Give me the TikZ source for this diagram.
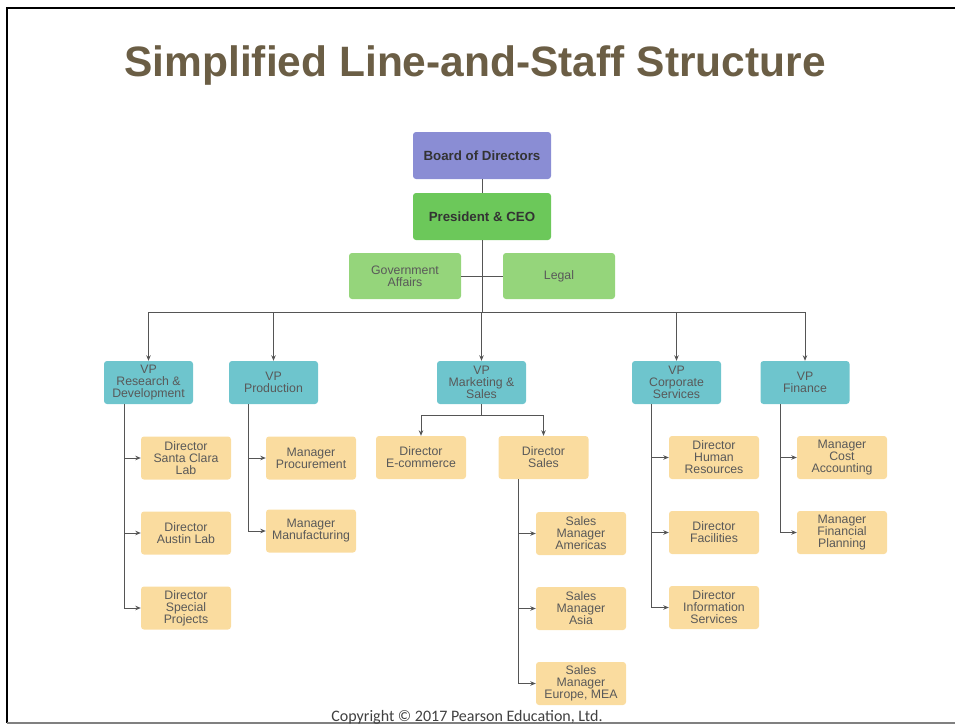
\documentclass[tikz,border=0pt]{standalone}
\usepackage{fontspec}
\setmainfont{Liberation Sans}
\newfontfamily\copyfont{Carlito}
\usetikzlibrary{positioning,arrows.meta}

\definecolor{titlebrown}{HTML}{6B5E45}
\definecolor{boardblue}{HTML}{8A8DD4}
\definecolor{ceogreen}{HTML}{6CC85A}
\definecolor{staffgreen}{HTML}{95D57B}
\definecolor{vpteal}{HTML}{6EC5CD}
\definecolor{subtan}{HTML}{FADC9F}
\definecolor{linegray}{HTML}{555555}

\tikzset{
  box/.style={rectangle, rounded corners=3pt, align=center, inner sep=0pt,
    font=\fontsize{12.3}{12}\selectfont},
  topbox/.style={box, minimum width=138pt, minimum height=47pt,
    font=\bfseries\fontsize{13.3}{14}\selectfont, text=black!80},
  staffbox/.style={box, fill=staffgreen, minimum width=112pt, minimum height=46pt, text=black!65},
  vpbox/.style={box, fill=vpteal, minimum width=89pt, minimum height=43pt, text=black!65},
  subbox/.style={box, fill=subtan, minimum width=90pt, minimum height=43pt, text=black!65},
  link/.style={draw=linegray, line width=0.9pt},
  arrowlink/.style={link, -{Stealth[length=5.5pt,width=4.5pt]}}
}

\begin{document}
\begin{tikzpicture}[x=1pt, y=1pt, node distance=75pt]
    \useasboundingbox (0,0) rectangle (955,-725);

    % Frame and title
    \draw [line width=2.5pt] (7,-723) -- (7,-8) -- (955,-8);
    \draw [gray, line width=2pt] (7,-723) -- (955,-723);
    \node [font=\bfseries\fontsize{42.5}{46}\selectfont, text=titlebrown] (title) at (475,-66) {Simplified Line-and-Staff Structure};

    % Nodes
    \node [topbox, fill=boardblue] (board) at (482,-155.5) {Board of Directors};
    \node [topbox, fill=ceogreen] (ceo) at (482,-216.5) {President \& CEO};
    \node [staffbox] (gov) at (405,-276) {Government\\Affairs};
    \node [staffbox] (legal) at (559,-276) {Legal};

    \node [vpbox] (vprd) at (148.5,-382.5) {VP\\Research \&\\Development};
    \node [vpbox] (vpprod) at (273.5,-382.5) {VP\\Production};
    \node [vpbox] (vpmkt) at (481.5,-382.5) {VP\\Marketing \&\\Sales};
    \node [vpbox] (vpcorp) at (676.5,-382.5) {VP\\Corporate\\Services};
    \node [vpbox] (vpfin) at (805,-382.5) {VP\\Finance};

    \node [subbox] (santaclara) at (186,-458) {Director\\Santa Clara\\Lab};
    \node [subbox, below of=santaclara] (austin) {Director\\Austin Lab};
    \node [subbox, below of=austin] (special) {Director\\Special\\Projects};

    \node [subbox] (procure) at (311,-458) {Manager\\Procurement};
    \node [subbox, below of=procure, yshift=2pt] (manufact) {Manager\\Manufacturing};

    \node [subbox] (ecom) at (421,-457.5) {Director\\E-commerce};
    \node [subbox] (dirsales) at (543.5,-457.5) {Director\\Sales};
    \node [subbox] (americas) at (581,-533.5) {Sales\\Manager\\Americas};
    \node [subbox, below of=americas] (asia) {Sales\\Manager\\Asia};
    \node [subbox, below of=asia] (europe) {Sales\\Manager\\Europe, MEA};

    \node [subbox] (hr) at (714,-457.5) {Director\\Human\\Resources};
    \node [subbox, below of=hr] (facilities) {Director\\Facilities};
    \node [subbox, below of=facilities] (infosvc) {Director\\Information\\Services};

    \node [subbox] (costacc) at (842,-457.5) {Manager\\Cost\\Accounting};
    \node [subbox, below of=costacc] (finplan) {Manager\\Financial\\Planning};

    \node [font=\copyfont\fontsize{16}{18}\selectfont, text=black!75, anchor=base] (copyright) at (467,-721.5) {Copyright \textcopyright{} 2017 Pearson Education, Ltd.};

    % Joints
    \coordinate (vpbus) at (482,-312);
    \coordinate (mktbus) at ([yshift=-11pt]vpmkt.south);
    \coordinate (rdtrunk) at ([xshift=21pt]vprd.south west);
    \coordinate (prodtrunk) at ([xshift=20pt]vpprod.south west);
    \coordinate (salestrunk) at ([xshift=20pt]dirsales.south west);
    \coordinate (corptrunk) at ([xshift=20pt]vpcorp.south west);
    \coordinate (fintrunk) at ([xshift=20pt]vpfin.south west);

    % Path
    \draw [link] (board) -- (ceo);
    \draw [link] (ceo) -- (vpbus);
    \draw [link] (gov) -- (legal);
    \foreach \vp in {vprd, vpprod, vpmkt, vpcorp, vpfin}
        \draw [arrowlink] (vpbus) -| (\vp);

    \draw [link] (vpmkt) -- (mktbus);
    \draw [arrowlink] (mktbus) -| (ecom);
    \draw [arrowlink] (mktbus) -| (dirsales);

    \foreach \kid in {santaclara, austin, special}
        \draw [arrowlink] (rdtrunk) |- (\kid);
    \foreach \kid in {procure, manufact}
        \draw [arrowlink] (prodtrunk) |- (\kid);
    \foreach \kid in {americas, asia, europe}
        \draw [arrowlink] (salestrunk) |- (\kid);
    \foreach \kid in {hr, facilities, infosvc}
        \draw [arrowlink] (corptrunk) |- (\kid);
    \foreach \kid in {costacc, finplan}
        \draw [arrowlink] (fintrunk) |- (\kid);
\end{tikzpicture}
\end{document}
